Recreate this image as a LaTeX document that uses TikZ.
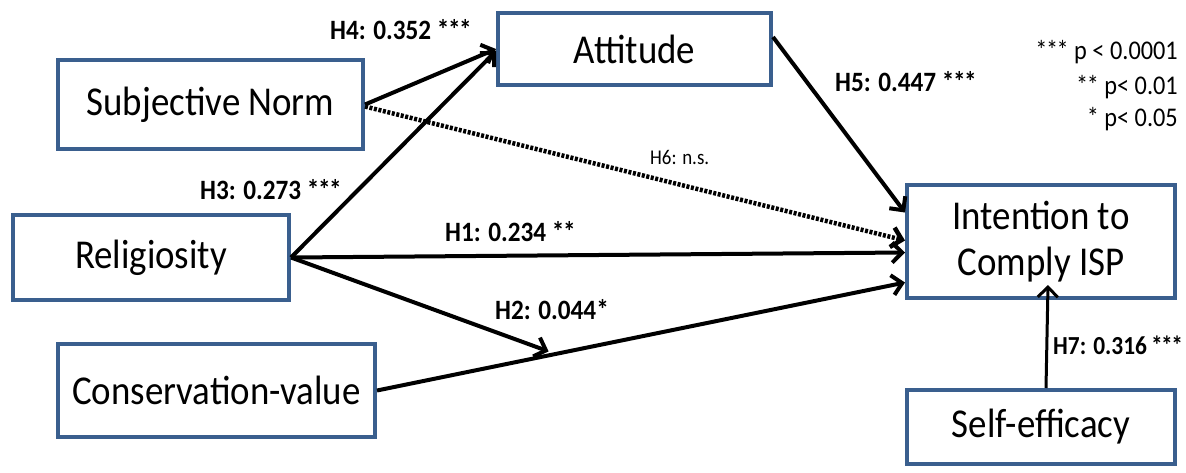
\documentclass[tikz,border=0pt]{standalone}
\usepackage{fontspec}
\setmainfont{Carlito}[FakeStretch=0.9]
\usetikzlibrary{arrows.meta,calc}
\definecolor{boxblue}{HTML}{3A5F8E}
\newcommand{\stars}[1]{\ifcase#1\or*\or*\kern-1.5pt*\or*\kern-1.5pt*\kern-1.5pt*\fi}
\begin{document}
\begin{tikzpicture}[x=1pt,y=-1pt,
  box/.style={draw=boxblue, line width=4pt, fill=white, inner sep=0pt,
    font=\fontsize{41}{46}\selectfont, align=center},
  arr/.style={line width=4pt, -{Straight Barb[length=10pt,width=20pt]}},
  dotarr/.style={line width=4.5pt, dash pattern=on 3pt off 1.6pt, -{Straight Barb[length=10pt,width=20pt]}},
  lab/.style={font=\fontsize{28}{32}\selectfont\bfseries, inner sep=0pt, anchor=west},
  smalllab/.style={font=\fontsize{21}{24}\selectfont, inner sep=0pt, anchor=west},
  legend/.style={font=\fontsize{27}{30}\selectfont, inner sep=0pt, anchor=east}
]
\useasboundingbox[fill=white] (0,0) rectangle (1186,472);

\node[box, minimum width=305pt, minimum height=89pt] (sn) at (210.5,104.5) {Subjective Norm};
\node[box, minimum width=273pt, minimum height=72pt] (att) at (634.5,49) {Attitude};
\node[box, minimum width=276pt, minimum height=85pt] (rel) at (151,257.5) {Religiosity};
\node[box, minimum width=317pt, minimum height=93pt] (cv) at (216.5,390.5) {Conservation-value};
\node[box, minimum width=268pt, minimum height=113pt] (int) at (1041,241.5) {Intention to\\Comply ISP};
\node[box, minimum width=268pt, minimum height=74pt] (se) at (1041,427) {Self-efficacy};

% connectors
\draw[arr] (sn.east) -- (att.west);
\draw[arr] (rel.east) -- ($(att.west)+(0,2)$);
\draw[arr] ($(att.east)+(0,-12)$) -- ($(int.west)+(0,-29)$);
\draw[dotarr] ($(sn.east)+(0,2)$) -- ($(int.west)+(0,-1)$);
\draw[arr] (rel.east) -- ($(int.west)+(0,11)$);
\path (cv.east) -- coordinate[pos=0.325] (mod) ($(int.west)+(0,41)$);
\draw[arr] (cv.east) -- ($(int.west)+(0,41)$);
\draw[arr] (rel.east) -- ($(mod)+(0,-4)$);
\draw[line width=3pt, -{Straight Barb[length=10pt,width=20pt]}] ($(se.north)+(5,0)$) -- ($(int.south)+(7,-15)$);

% labels
\node[lab] (l4) at (330,30) {H4: 0.352 \stars3};
\node[lab] (l3) at (200,190) {H3: 0.273 \stars3};
\node[lab] (l5) at (835,82) {H5: 0.447 \stars3};
\node[smalllab] (l6) at (650,157) {H6: n.s.};
\node[lab] (l1) at (445,232) {H1: 0.234 \stars2};
\node[lab] (l2) at (495,310) {H2: 0.044\stars1};
\node[lab, font=\fontsize{26}{30}\selectfont\bfseries] (l7) at (1053,345) {H7: 0.316\kern4pt\stars3};

% legend
\node[legend] (g1) at (1178,52) {\stars3 p < 0.0001};
\node[legend] (g2) at (1178,87) {\stars2 p< 0.01};
\node[legend] (g3) at (1178,119) {\stars1 p< 0.05};
\end{tikzpicture}
\end{document}
